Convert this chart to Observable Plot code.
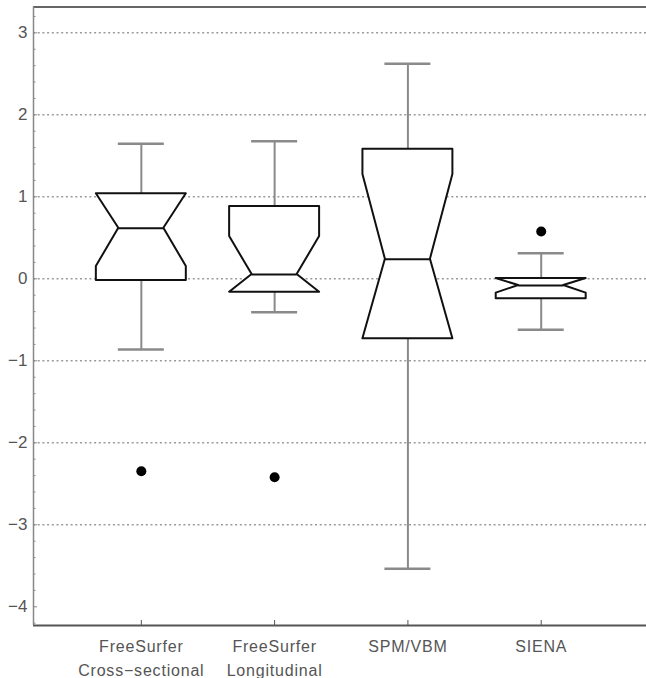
<!DOCTYPE html>
<html><head><meta charset="utf-8">
<script src="https://cdn.jsdelivr.net/npm/d3@7"></script>
<script src="https://cdn.jsdelivr.net/npm/@observablehq/plot@0.6"></script>
<style>body{margin:0;background:#fff} #chart svg{display:block}</style>
</head><body><div id="chart"></div>
<script>
// ---- data ----
const categories = ["FreeSurfer\nCross−sectional", "FreeSurfer\nLongitudinal", "SPM/VBM", "SIENA"];
const whiskerLow  = [-0.862, -0.407, -3.537, -0.622];
const q1          = [-0.021, -0.163, -0.732, -0.244];
const median      = [ 0.617,  0.052,  0.239, -0.082];
const q3          = [ 1.037,  0.882,  1.580,  0.004];
const whiskerHigh = [ 1.646,  1.678,  2.622,  0.312];
const notchLow    = [ 0.150, -0.412, -0.794, -0.175];
const notchHigh   = [ 1.084,  0.516,  1.272,  0.011];
const outlierGroup = [0, 1, 3];
const outlierValue = [-2.346, -2.420, 0.577];
const yMajorTicks = [-4, -3, -2, -1, 0, 1, 2, 3];
const gridValues  = [-3, -2, -1, 0, 1, 2, 3];
const yDomain = [-4.228, 3.315];
const xDomain = [0.191, 4.79];

// ---- layout constants (in x units) ----
const BOX_HALF = 0.3375, CAP_HALF = 0.1725, MED_HALF = 0.169;

const boxes = categories.map((c, i) => ({
  i, x: i + 1, wlo: whiskerLow[i], q1: q1[i], med: median[i], q3: q3[i],
  whi: whiskerHigh[i], nlo: notchLow[i], nhi: notchHigh[i]
}));
const shape = boxes.flatMap(b => {
  const lo = Math.max(b.nlo, b.q1), hi = Math.min(b.nhi, b.q3);
  return [[b.q1, BOX_HALF], [lo, BOX_HALF], [b.med, MED_HALF], [hi, BOX_HALF], [b.q3, BOX_HALF]]
    .map(([v, w]) => ({g: b.i, v, x1: b.x - w, x2: b.x + w}));
});
const outliers = outlierGroup.map((g, k) => ({x: g + 1, v: outlierValue[k]}));
const minorTicks = d3.range(-21, 17).map(k => k / 5).filter(v => Math.abs(v - Math.round(v)) > 1e-9);
const fmtY = d => (d < 0 ? "\u2212" : "") + Math.abs(d);

const chart = Plot.plot({
  width: 646, height: 678,
  marginLeft: 33, marginRight: 0, marginTop: 6.5, marginBottom: 53,
  style: {fontFamily: "'Liberation Sans', Arial, sans-serif", background: "white"},
  x: {domain: xDomain, label: null},
  y: {domain: yDomain, label: null},
  marks: [
    Plot.gridY(gridValues, {stroke: "#9a9a9a", strokeOpacity: 1, strokeWidth: 1.5, strokeDasharray: "2,2.7"}),
    Plot.ruleX(boxes, {x: "x", y1: "wlo", y2: "q1", stroke: "#8a8a8a", strokeWidth: 2}),
    Plot.ruleX(boxes, {x: "x", y1: "q3", y2: "whi", stroke: "#8a8a8a", strokeWidth: 2}),
    Plot.ruleY(boxes, {y: "wlo", x1: d => d.x - CAP_HALF, x2: d => d.x + CAP_HALF, stroke: "#8a8a8a", strokeWidth: 2.5}),
    Plot.ruleY(boxes, {y: "whi", x1: d => d.x - CAP_HALF, x2: d => d.x + CAP_HALF, stroke: "#8a8a8a", strokeWidth: 2.5}),
    Plot.areaX(shape, {y: "v", x1: "x1", x2: "x2", z: "g", fill: "white", stroke: "#111", strokeWidth: 2, curve: "linear"}),
    Plot.ruleY(boxes, {y: "med", x1: d => d.x - MED_HALF, x2: d => d.x + MED_HALF, stroke: "#111", strokeWidth: 2}),
    Plot.dot(outliers, {x: "x", y: "v", r: 5, fill: "black", stroke: null}),
    Plot.ruleY([yDomain[1]], {stroke: "#666", strokeWidth: 2}),
    Plot.ruleY([yDomain[0]], {stroke: "#555", strokeWidth: 2}),
    Plot.ruleX([xDomain[0]], {stroke: "#888", strokeWidth: 1.5}),
    Plot.axisY(yMajorTicks, {tickSize: 0, tickPadding: 6, fontSize: 17, tickFormat: fmtY, color: "#555", label: null}),
    Plot.axisY(yMajorTicks, {tickSize: -4, tickFormat: () => "", color: "#888", label: null}),
    Plot.axisY(minorTicks, {tickSize: -2.5, tickFormat: () => "", color: "#888", label: null}),
    Plot.axisX([1, 2, 3, 4], {tickSize: -5, tickPadding: 14, tickFormat: d => categories[d - 1], fontSize: 16, lineHeight: 1.5, color: "#555", label: null})
  ]
});
chart.querySelectorAll('g[aria-label="x-axis tick label"] text').forEach(t => t.style.letterSpacing = "0.8px");
document.getElementById("chart").appendChild(chart);
</script>
</body></html>
